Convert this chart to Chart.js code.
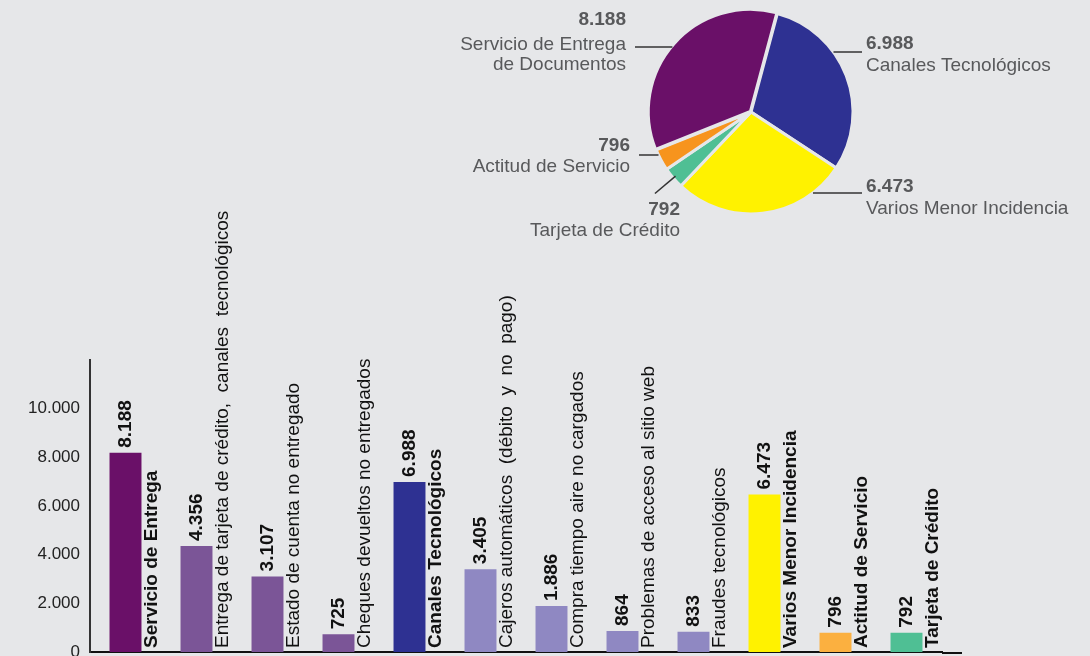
<!DOCTYPE html>
<html>
<head>
<meta charset="utf-8">
<script src="https://cdn.jsdelivr.net/npm/chart.js@4/dist/chart.umd.min.js"></script>
<style>
body{margin:0;background:#e6e7e9;width:1090px;height:656px;overflow:hidden;position:relative;}
#pieBox{position:absolute;left:0;top:0;width:1090px;height:250px;}
#barBox{position:absolute;left:0;top:190px;width:1090px;height:466px;}
</style>
</head>
<body>
<div id="pieBox"><canvas id="pie"></canvas></div>
<div id="barBox"><canvas id="bars"></canvas></div>
<script>
// bar chart data
var barCats = ['Servicio de Entrega', 'Entrega de tarjeta de crédito,  canales  tecnológicos',
  'Estado de cuenta no entregado', 'Cheques devueltos no entregados', 'Canales Tecnológicos',
  'Cajeros automáticos  (débito  y  no  pago)', 'Compra tiempo aire no cargados',
  'Problemas de acceso al sitio web', 'Fraudes tecnológicos', 'Varios Menor Incidencia',
  'Actitud de Servicio', 'Tarjeta de Crédito'];
var barValues = [8188, 4356, 3107, 725, 6988, 3405, 1886, 864, 833, 6473, 796, 792];
var barMain = [true, false, false, false, true, false, false, false, false, true, true, true];
var yTicks = [0, 2000, 4000, 6000, 8000, 10000];

// pie data (clockwise from the top)
var pieNames = ['Canales Tecnológicos', 'Varios Menor Incidencia', 'Tarjeta de Crédito',
  'Actitud de Servicio', ['Servicio de Entrega', 'de Documentos']];
var pieValues = [6988, 6473, 792, 796, 8188];

var barColors = ['#6a1068', '#7b5597', '#7b5597', '#7b5597', '#2e3192', '#8f88c2', '#8f88c2',
  '#8f88c2', '#8f88c2', '#fff200', '#fbb040', '#4fbf94'];
var pieColors = ['#2e3192', '#fff200', '#4fbf94', '#f7941d', '#6a1068'];

var FONT = '"Liberation Sans", Arial, Helvetica, sans-serif';

function fmt(v) {
  return String(v).replace(/\B(?=(\d{3})+(?!\d))/g, '.');
}

// where the pie notes sit
var pieNotes = [
  {side: 'right', x: 866, ys: [44, 66], lineY: 52},
  {side: 'right', x: 866, ys: [187, 209], lineY: 193},
  {side: 'left', x: 680, ys: [210, 231], diag: true},
  {side: 'left', x: 630, ys: [146, 167], lineY: 155},
  {side: 'left', x: 626, ys: [20, 45, 65], lineY: 47}
];

var barLabels = {
  id: 'barLabels',
  afterDatasetsDraw: function(chart) {
    var ctx = chart.ctx;
    var meta = chart.getDatasetMeta(0);
    var base = chart.scales.y.getPixelForValue(0);
    ctx.save();
    ctx.fillStyle = '#111';
    ctx.textAlign = 'left';
    ctx.textBaseline = 'middle';
    meta.data.forEach(function(bar, i) {
      var half = bar.width / 2;
      ctx.save();
      ctx.translate(bar.x, bar.y - 5);
      ctx.rotate(-Math.PI / 2);
      ctx.font = 'bold 19px ' + FONT;
      ctx.fillText(fmt(barValues[i]), 0, 0);
      ctx.restore();

      ctx.save();
      ctx.translate(bar.x + half + 10, base - 4);
      ctx.rotate(-Math.PI / 2);
      ctx.font = (barMain[i] ? 'bold ' : '') + '19px ' + FONT;
      ctx.fillText(barCats[i], 0, 0);
      ctx.restore();
    });
    // x axis runs a bit past the last bar
    ctx.strokeStyle = '#111';
    ctx.lineWidth = 2;
    ctx.beginPath();
    ctx.moveTo(chart.chartArea.right, chart.chartArea.bottom + 1);
    ctx.lineTo(chart.chartArea.right + 20, chart.chartArea.bottom + 1);
    ctx.stroke();
    ctx.restore();
  }
};

var pieLabels = {
  id: 'pieLabels',
  afterDatasetsDraw: function(chart) {
    var ctx = chart.ctx;
    var meta = chart.getDatasetMeta(0);
    ctx.save();
    ctx.fillStyle = '#58595b';
    ctx.strokeStyle = '#333';
    ctx.lineWidth = 1.5;
    ctx.textBaseline = 'middle';
    pieNotes.forEach(function(n, i) {
      var arc = meta.data[i];
      var r = arc.outerRadius;
      ctx.textAlign = n.side === 'right' ? 'left' : 'right';
      var lines = [fmt(pieValues[i])].concat(pieNames[i]);
      lines.forEach(function(t, k) {
        ctx.font = (k === 0 ? 'bold ' : '') + '19px ' + FONT;
        ctx.fillText(t, n.x, n.ys[k]);
      });
      ctx.beginPath();
      if (n.diag) {
        var a = (arc.startAngle + arc.endAngle) / 2;
        ctx.moveTo(arc.x + Math.cos(a) * (r - 3), arc.y + Math.sin(a) * (r - 3));
        ctx.lineTo(arc.x + Math.cos(a) * (r + 24), arc.y + Math.sin(a) * (r + 24));
      } else {
        var dy = n.lineY - arc.y;
        var dx = Math.sqrt(Math.max(r * r - dy * dy, 0));
        if (n.side === 'right') {
          ctx.moveTo(arc.x + dx, n.lineY);
          ctx.lineTo(n.x - 4, n.lineY);
        } else {
          ctx.moveTo(arc.x - dx, n.lineY);
          ctx.lineTo(n.x + 9, n.lineY);
        }
      }
      ctx.stroke();
    });
    ctx.restore();
  }
};

new Chart(document.getElementById('bars').getContext('2d'), {
  type: 'bar',
  data: {
    labels: barCats,
    datasets: [{
      data: barValues,
      backgroundColor: barColors,
      barPercentage: 0.45,
      categoryPercentage: 1
    }]
  },
  options: {
    responsive: true,
    maintainAspectRatio: false,
    animation: false,
    layout: {padding: {top: 170, right: 148, bottom: 0, left: 0}},
    plugins: {legend: {display: false}, tooltip: {enabled: false}},
    scales: {
      x: {
        grid: {display: false},
        border: {display: true, color: '#111', width: 2},
        ticks: {display: false},
        afterFit: function(s) { s.height = 4; }
      },
      y: {
        min: 0,
        max: 12000,
        afterBuildTicks: function(s) {
          s.ticks = yTicks.map(function(v) { return {value: v}; });
        },
        afterFit: function(s) {
          s.width = 90;
          s.paddingTop = 0;
          s.paddingBottom = 0;
        },
        grid: {display: false, drawTicks: false},
        border: {display: true, color: '#333', width: 2},
        ticks: {
          color: '#222',
          padding: 10,
          font: {size: 17, family: FONT},
          callback: function(v) { return fmt(v); }
        }
      }
    }
  },
  plugins: [barLabels]
});

new Chart(document.getElementById('pie').getContext('2d'), {
  type: 'pie',
  data: {
    labels: pieNames,
    datasets: [{
      data: pieValues,
      backgroundColor: pieColors,
      borderColor: '#e6e7e9',
      borderWidth: 3,
      offset: [0, 0, 0, 0, 3]
    }]
  },
  options: {
    responsive: true,
    maintainAspectRatio: false,
    animation: false,
    rotation: 15,
    layout: {padding: {left: 646, right: 234, top: 7, bottom: 33}},
    plugins: {legend: {display: false}, tooltip: {enabled: false}}
  },
  plugins: [pieLabels]
});
</script>
</body>
</html>
